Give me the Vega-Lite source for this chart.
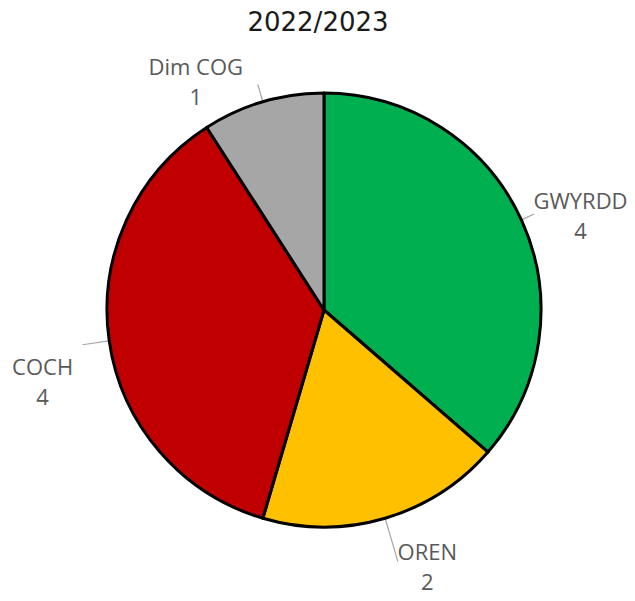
{
  "$schema": "https://vega.github.io/schema/vega-lite/v6.json",
  "width": 440,
  "height": 440,
  "autosize": {"type": "none"},
  "padding": {"left": 104, "top": 90, "right": 91, "bottom": 71},
  "background": "white",
  "title": {"text": "2022/2023", "font": "DejaVu Sans", "fontSize": 26, "fontWeight": "normal", "color": "#1a1a1a", "anchor": "middle", "offset": 21, "dx": -6},
  "config": {"view": {"stroke": null}},
  "data": {"values": [
    {"cat": "GWYRDD", "value": 4, "idx": 1},
    {"cat": "OREN", "value": 2, "idx": 2},
    {"cat": "COCH", "value": 4, "idx": 3},
    {"cat": "Dim COG", "value": 1, "idx": 4}
  ]},
  "transform": [
    {"stack": "value", "groupby": [], "sort": [{"field": "idx", "order": "ascending"}], "as": ["v0", "v1"]},
    {"calculate": "(datum.v0 + datum.v1) / 2", "as": "mid"},
    {"calculate": "datum.cat + '\\n' + datum.value", "as": "label"}
  ],
  "layer": [
    {
      "transform": [{"filter": "datum.cat == 'GWYRDD'"}],
      "mark": {"type": "arc", "radius": 217, "radius2": 231, "stroke": "#A6A6A6", "strokeWidth": 1.2, "fill": null},
      "encoding": {"theta": {"field": "mid", "type": "quantitative", "scale": {"domain": [0, 11]}}, "theta2": {"field": "mid"}}
    },
    {
      "transform": [{"filter": "datum.cat == 'OREN'"}],
      "mark": {"type": "arc", "radius": 217, "radius2": 262, "stroke": "#A6A6A6", "strokeWidth": 1.2, "fill": null},
      "encoding": {"theta": {"field": "mid", "type": "quantitative", "scale": {"domain": [0, 11]}}, "theta2": {"field": "mid"}}
    },
    {
      "transform": [{"filter": "datum.cat == 'COCH'"}],
      "mark": {"type": "arc", "radius": 217, "radius2": 244, "stroke": "#A6A6A6", "strokeWidth": 1.2, "fill": null},
      "encoding": {"theta": {"field": "mid", "type": "quantitative", "scale": {"domain": [0, 11]}}, "theta2": {"field": "mid"}}
    },
    {
      "transform": [{"filter": "datum.cat == 'Dim COG'"}],
      "mark": {"type": "arc", "radius": 217, "radius2": 235, "stroke": "#A6A6A6", "strokeWidth": 1.2, "fill": null},
      "encoding": {"theta": {"field": "mid", "type": "quantitative", "scale": {"domain": [0, 11]}}, "theta2": {"field": "mid"}}
    },
    {
      "mark": {"type": "arc", "radius": 217, "stroke": "#000000", "strokeWidth": 3, "strokeJoin": "round"},
      "encoding": {
        "theta": {"field": "v0", "type": "quantitative", "scale": {"domain": [0, 11]}},
        "theta2": {"field": "v1"},
        "color": {"field": "cat", "type": "nominal", "legend": null,
          "scale": {"domain": ["GWYRDD", "OREN", "COCH", "Dim COG"], "range": ["#00B050", "#FFC000", "#C00000", "#A6A6A6"]}}
      }
    },
    {
      "transform": [{"filter": "datum.cat == 'GWYRDD'"}],
      "mark": {"type": "text", "radius": 260, "dx": 20, "dy": 0, "font": "Open Sans", "fontSize": 22, "color": "#595959", "lineBreak": "\n", "lineHeight": 30, "align": "center", "baseline": "middle"},
      "encoding": {"theta": {"field": "mid", "type": "quantitative", "scale": {"domain": [0, 11]}}, "text": {"field": "label"}}
    },
    {
      "transform": [{"filter": "datum.cat == 'OREN'"}],
      "mark": {"type": "text", "radius": 260, "dx": 30, "dy": -6, "font": "Open Sans", "fontSize": 22, "color": "#595959", "lineBreak": "\n", "lineHeight": 30, "align": "center", "baseline": "middle"},
      "encoding": {"theta": {"field": "mid", "type": "quantitative", "scale": {"domain": [0, 11]}}, "text": {"field": "label"}}
    },
    {
      "transform": [{"filter": "datum.cat == 'COCH'"}],
      "mark": {"type": "text", "radius": 260, "dx": -24, "dy": 21, "font": "Open Sans", "fontSize": 22, "color": "#595959", "lineBreak": "\n", "lineHeight": 30, "align": "center", "baseline": "middle"},
      "encoding": {"theta": {"field": "mid", "type": "quantitative", "scale": {"domain": [0, 11]}}, "text": {"field": "label"}}
    },
    {
      "transform": [{"filter": "datum.cat == 'Dim COG'"}],
      "mark": {"type": "text", "radius": 260, "dx": -55, "dy": 7, "font": "Open Sans", "fontSize": 22, "color": "#595959", "lineBreak": "\n", "lineHeight": 30, "align": "center", "baseline": "middle"},
      "encoding": {"theta": {"field": "mid", "type": "quantitative", "scale": {"domain": [0, 11]}}, "text": {"field": "label"}}
    }
  ]
}
